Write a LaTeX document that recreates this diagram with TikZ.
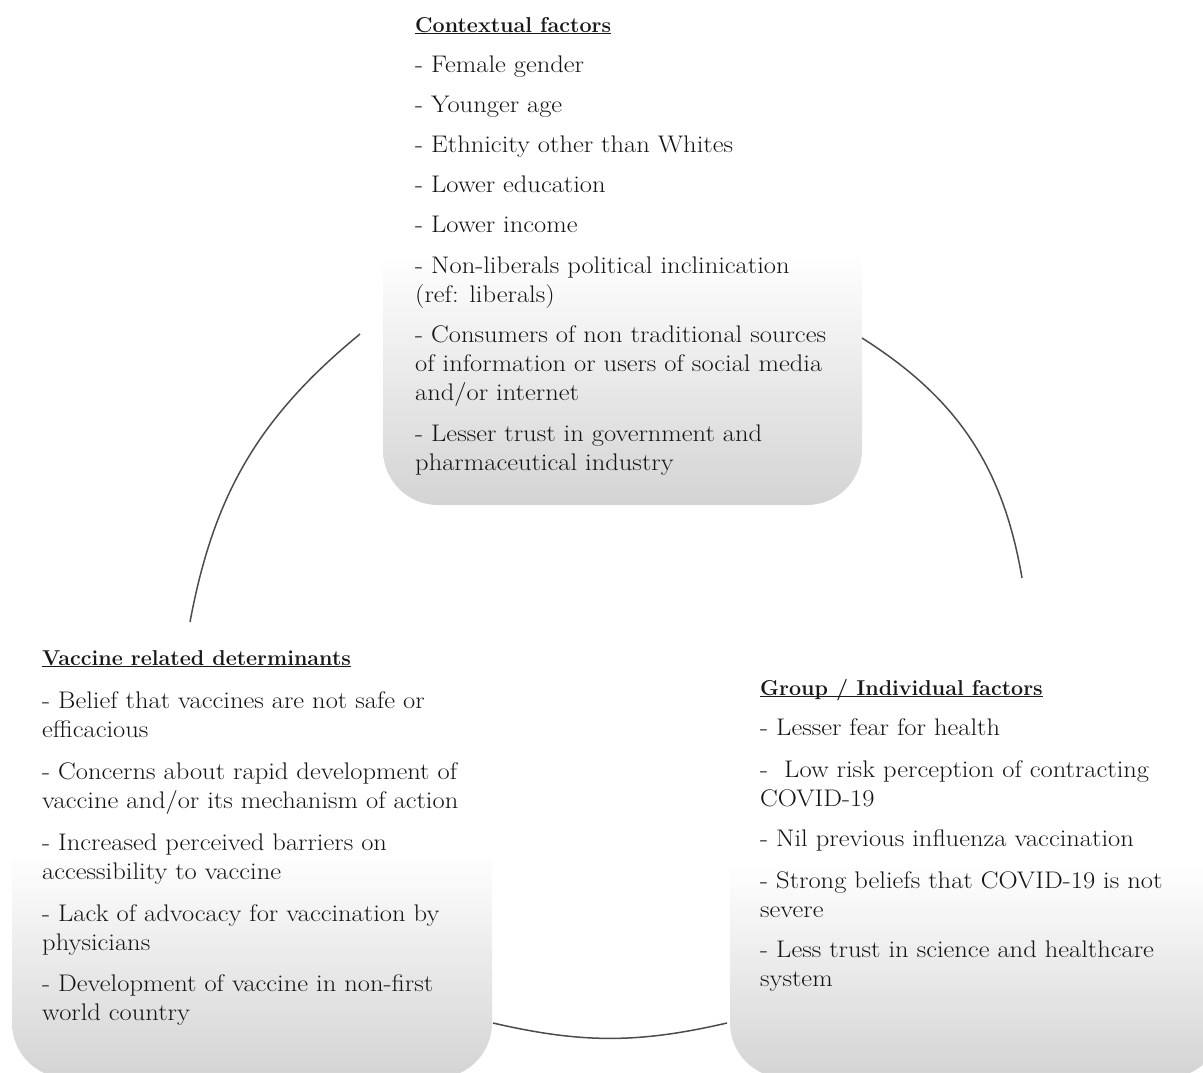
\documentclass[tikz,border=0pt]{standalone}
\newcommand\hdr[1]{\underline{\smash{\textbf{#1}}}}
\newcommand\bodytext[2]{\scalebox{1.105}[1]{\parbox[t]{#1}{\raggedright #2}}}
\tikzset{
  box/.style={rounded corners=55pt, top color=white, bottom color=gray!34, middle color=white, draw=none, inner sep=0pt},
  arcline/.style={draw=black!70, line width=1.5pt},
  ttl/.style={anchor=base west, inner sep=0pt, text=black!90, font=\fontsize{21.5}{29}\selectfont},
  txt/.style={anchor=base west, inner sep=0pt, text=black!92, font=\fontsize{24}{29}\selectfont},
}
\begin{document}
\begin{tikzpicture}[x=1pt,y=-1pt]
\useasboundingbox (0,0) rectangle (1203,1072);
% boxes
\node[box, minimum width=479pt, minimum height=505pt] (ctxbox) at (622.5,252.5) {};
\node[box, minimum width=480pt, minimum height=453pt] (vacbox) at (252,851.5) {};
\node[box, minimum width=492pt, minimum height=423pt] (grpbox) at (976,866.5) {};
% titles
\node[ttl] (ctxtitle) at (415,32) {\hdr{Contextual factors}};
\node[ttl] (vactitle) at (42,665) {\hdr{Vaccine related determinants}};
\node[ttl] (grptitle) at (760,695) {\hdr{Group / Individual factors}};
% texts
\node[txt] (ctxtext) at (415,72) {\bodytext{420pt}{%
- Female gender\\[11pt]
- Younger age\\[11pt]
- Ethnicity other than Whites\\[11pt]
- Lower education\\[11pt]
- Lower income\\[12pt]
- Non-liberals political inclinication\\
(ref: liberals)\\[11pt]
- Consumers of non traditional sources\\
of information or users of social media\\
and/or internet\\[12pt]
- Lesser trust in government and\\
pharmaceutical industry}};
\node[txt] (vactext) at (42,708) {\bodytext{420pt}{%
- Belief that vaccines are not safe or\\
efficacious\\[13pt]
- Concerns about rapid development of\\
vaccine and/or its mechanism of action\\[13pt]
- Increased perceived barriers on\\
accessibility to vaccine\\[13pt]
- Lack of advocacy for vaccination by\\
physicians\\[12pt]
- Development of vaccine in non-first\\
world country}};
\node[txt] (grptext) at (760,735) {\bodytext{400pt}{%
- Lesser fear for health\\[13pt]
- \ Low risk perception of contracting\\
COVID-19\\[11pt]
- Nil previous influenza vaccination\\[13pt]
- Strong beliefs that COVID-19 is not\\
severe\\[11pt]
- Less trust in science and healthcare\\
system}};
% connectors
\coordinate (l1) at (190,622);
\coordinate (l2) at (360,334);
\coordinate (r1) at (862,338);
\coordinate (r2) at (1022,578);
\coordinate (b1) at (493,1023);
\coordinate (b2) at (727,1023);
\draw[arcline] (l1) to[bend left=20] (l2);
\draw[arcline] (r1) to[bend left=24] (r2);
\draw[arcline] (b1) to[bend right=13] (b2);
\end{tikzpicture}
\end{document}
